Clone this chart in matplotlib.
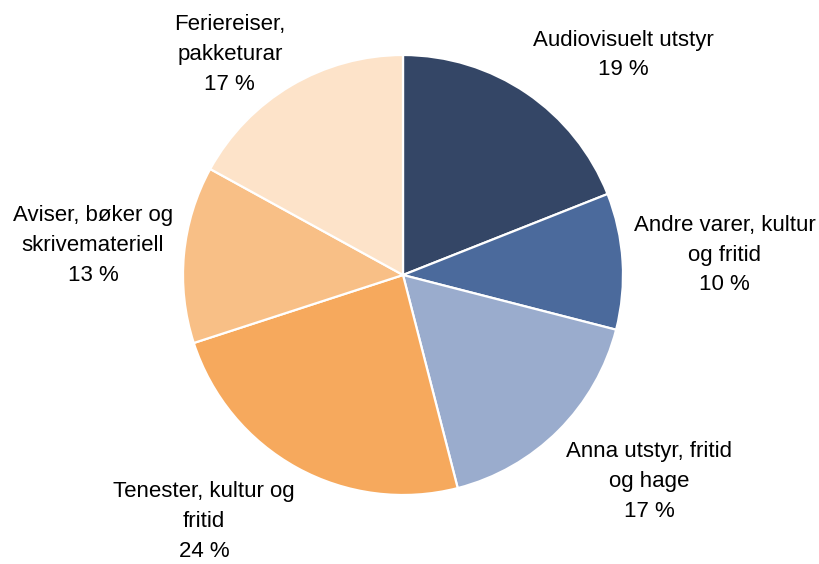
import numpy as np
import matplotlib
matplotlib.use("Agg")
import matplotlib.pyplot as plt

# data
categories = ["Audiovisuelt utstyr", "Andre varer, kultur\nog fritid", "Anna utstyr, fritid\nog hage",
              "Tenester, kultur og\nfritid", "Aviser, bøker og\nskrivemateriell", "Feriereiser,\npakketurar"]
shares = [19, 10, 17, 24, 13, 17]
colors = ["#344666", "#4b6a9c", "#9aaccd", "#f6a95d", "#f8bf86", "#fde3c9"]

plt.rcParams['font.family'] = ['Liberation Sans', 'DejaVu Sans']

W, H, DPI = 820, 564, 100
fig = plt.figure(figsize=(W / DPI, H / DPI), dpi=DPI)
# pie centre at (403, 275) px, radius 220 px
cx, cy, R = 403, 275, 220
ax = fig.add_axes([(cx - R) / W, (H - cy - R) / H, 2 * R / W, 2 * R / H])

wedges, _ = ax.pie(shares, colors=colors, startangle=90, counterclock=False, radius=1,
                   wedgeprops=dict(edgecolor="white", linewidth=1.6))
ax.set_xlim(-1, 1)
ax.set_ylim(-1, 1)
ax.set_aspect("equal")
ax.axis("off")

renderer = fig.canvas.get_renderer()
top_margin, bottom_margin = 14, -12  # px, keep labels inside the figure
for w, name, v in zip(wedges, categories, shares):
	ang = np.deg2rad((w.theta1 + w.theta2) / 2)
	c, s = np.cos(ang), np.sin(ang)
	t = ax.text(0, 0, f"{name}\n{v} %", ha="center", va="center", fontsize=16,
		color="#000000", linespacing=1.55, clip_on=False)
	bb = t.get_window_extent(renderer)
	hw, hh = bb.width / 2 / R, bb.height / 2 / R
	x = 1.05 * c + hw * np.clip(2 * c, -1, 1)
	y = 1.07 * s + hh * np.clip(2 * s, -1, 1)
	# keep the label box inside the figure
	py = cy - y * R
	if py - bb.height / 2 < top_margin:
		y = (cy - top_margin - bb.height / 2) / R
	if py + bb.height / 2 > H - bottom_margin:
		y = (cy - (H - bottom_margin) + bb.height / 2) / R
	t.set_position((x, y))

fig.savefig("out.png", dpi=DPI)
